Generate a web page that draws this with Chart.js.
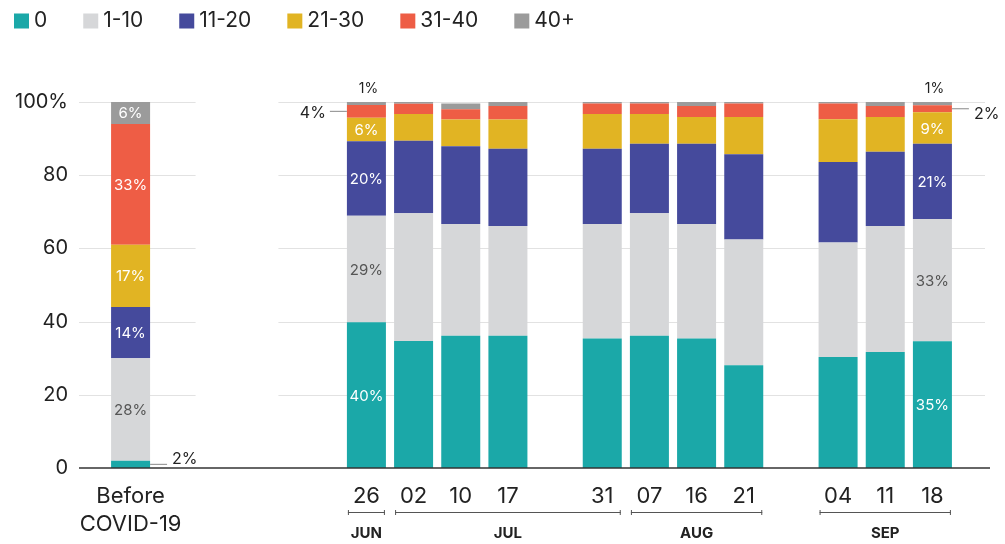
<!DOCTYPE html>
<html><head><meta charset="utf-8">
<script src="https://cdn.jsdelivr.net/npm/chart.js@4/dist/chart.umd.min.js"></script>
<style>html,body{margin:0;padding:0;background:#fff;}#wrap{width:1005px;height:544px;}</style>
</head><body><div id="wrap"><canvas id="c" width="1005" height="544"></canvas></div>
<script>
// ---- data ----
const categories = [["Before","COVID-19"], "", "", "", "", "26", "02", "10", "17", "", "31", "07", "16", "21", "", "04", "11", "18"];
const months     = [null, null, null, null, null, "JUN", "JUL", "JUL", "JUL", null, "JUL", "AUG", "AUG", "AUG", null, "SEP", "SEP", "SEP"];
const seriesNames = ["0", "1-10", "11-20", "21-30", "31-40", "40+"];
const zero        = [2,  null, null, null, null, 39.8, 34.7, 36.1, 36.1, null, 35.4, 36.1, 35.4, 28.1, null, 30.3, 31.7, 34.6];
const oneToTen    = [28, null, null, null, null, 29.1, 34.9, 30.6, 30.0, null, 31.3, 33.5, 31.3, 34.3, null, 31.3, 34.4, 33.4];
const elevenTo20  = [14, null, null, null, null, 20.4, 19.8, 21.2, 21.1, null, 20.5, 19.0, 21.9, 23.3, null, 22.0, 20.3, 20.6];
const twentyOneTo30 = [17, null, null, null, null, 6.4, 7.3, 7.3, 8.0, null, 9.5, 8.1, 7.3, 10.2, null, 11.7, 9.5, 8.6];
const thirtyOneTo40 = [33, null, null, null, null, 3.5, 2.8, 2.8, 3.7, null, 2.9, 2.9, 3.0, 3.7, null, 4.3, 3.0, 1.9];
const fortyPlus   = [6,  null, null, null, null, 0.8, 0.5, 1.6, 1.1, null, 0.4, 0.4, 1.1, 0.4, null, 0.4, 1.1, 0.9];
const yTickValues = [0, 20, 40, 60, 80, 100];
const annotatedBars = [0, 5, 17];

// ---- styles ----
const colors = ["#1BA8A8", "#D6D7D9", "#454A9C", "#E1B423", "#EE5D45", "#9B9B9B"];
const insideTextColors = ["#ffffff", "#555555", "#ffffff", "#ffffff", "#ffffff", "#ffffff"];
const outsideLabelStyle = {0: {side: "right", dy: -5}, 5: {side: "left", dy: 2}, 17: {side: "right", dy: 5}};
const FONT = "Inter, 'Noto Sans', sans-serif";

const seriesData = [zero, oneToTen, elevenTo20, twentyOneTo30, thirtyOneTo40, fortyPlus];

const gridPlugin = {
  id: "splitGrid",
  beforeDatasetsDraw(chart) {
    const {ctx, chartArea, scales: {x, y}} = chart;
    const firstRight = months.findIndex(m => m);
    const lx0 = chartArea.left - 28, lx1 = x.getPixelForValue(0) + 65;
    const rx0 = x.getPixelForValue(firstRight) - 88, rx1 = chartArea.right + 29;
    ctx.save();
    ctx.strokeStyle = "#E2E2E2";
    ctx.lineWidth = 1;
    yTickValues.forEach(v => {
      if (v === 0) return;
      const py = Math.round(y.getPixelForValue(v)) + 0.5;
      ctx.beginPath();
      ctx.moveTo(lx0, py); ctx.lineTo(lx1, py);
      ctx.moveTo(rx0, py); ctx.lineTo(rx1, py);
      ctx.stroke();
    });
    ctx.restore();
  },
  afterDatasetsDraw(chart) {
    const {ctx, chartArea, scales: {x, y}} = chart;
    ctx.save();
    // baseline
    const by = y.getPixelForValue(0);
    ctx.strokeStyle = "#333333";
    ctx.lineWidth = 1.6;
    ctx.beginPath();
    ctx.moveTo(chartArea.left - 28, by); ctx.lineTo(chartArea.right + 34, by);
    ctx.stroke();

    // value labels
    const last = seriesData.length - 1;
    annotatedBars.forEach(i => {
      seriesData.forEach((arr, d) => {
        const v = arr[i];
        if (v == null) return;
        const el = chart.getDatasetMeta(d).data[i];
        const txt = Math.round(v) + "%";
        const midY = (el.y + el.base) / 2;
        if (v >= 5) {
          ctx.font = "15px " + FONT;
          ctx.fillStyle = insideTextColors[d];
          ctx.textAlign = "center"; ctx.textBaseline = "middle";
          ctx.fillText(txt, el.x, midY + 1);
        } else if (d === last) {
          ctx.font = "14px " + FONT;
          ctx.fillStyle = "#222";
          ctx.textAlign = "center"; ctx.textBaseline = "middle";
          ctx.fillText(txt, el.x + 2, el.y - 13);
        } else {
          const st = outsideLabelStyle[i];
          const half = el.width / 2;
          ctx.strokeStyle = "#888"; ctx.lineWidth = 1;
          ctx.font = "16px " + FONT;
          ctx.fillStyle = "#222"; ctx.textBaseline = "middle";
          ctx.beginPath();
          if (st.side === "right") {
            ctx.moveTo(el.x + half, midY); ctx.lineTo(el.x + half + 17, midY); ctx.stroke();
            ctx.textAlign = "left";
            ctx.fillText(txt, el.x + half + 22, midY + st.dy);
          } else {
            ctx.moveTo(el.x - half, midY); ctx.lineTo(el.x - half - 17, midY); ctx.stroke();
            ctx.textAlign = "right";
            ctx.fillText(txt, el.x - half - 21, midY + st.dy);
          }
        }
      });
    });

    // month brackets
    const seen = [];
    months.forEach(m => { if (m && !seen.includes(m)) seen.push(m); });
    const half = chart.getDatasetMeta(0).data[annotatedBars[1]].width / 2;
    const ly = chartArea.bottom + 44.5;
    seen.forEach(m => {
      const a = months.indexOf(m), b = months.lastIndexOf(m);
      const xl = x.getPixelForValue(a) - half + 1, xr = x.getPixelForValue(b) + half - 1;
      ctx.strokeStyle = "#555"; ctx.lineWidth = 1;
      ctx.beginPath();
      ctx.moveTo(xl, ly); ctx.lineTo(xr, ly);
      ctx.moveTo(xl + 0.5, ly - 2.5); ctx.lineTo(xl + 0.5, ly + 2.5);
      ctx.moveTo(xr - 0.5, ly - 2.5); ctx.lineTo(xr - 0.5, ly + 2.5);
      ctx.stroke();
      ctx.font = "bold 15px " + FONT;
      ctx.fillStyle = "#222"; ctx.textAlign = "center"; ctx.textBaseline = "middle";
      ctx.fillText(m, (xl + xr) / 2, chartArea.bottom + 65);
    });
    ctx.restore();
  }
};

const legendPlugin = {
  id: "topLegend",
  afterDraw(chart) {
    const {ctx} = chart;
    ctx.save();
    ctx.font = "21px " + FONT;
    ctx.textBaseline = "middle"; ctx.textAlign = "left";
    let lx = 14;
    const cy = 21;
    chart.data.datasets.forEach(ds => {
      ctx.fillStyle = ds.backgroundColor;
      ctx.fillRect(lx, cy - 7.5, 15, 15);
      ctx.fillStyle = "#222";
      ctx.fillText(ds.label, lx + 20, cy);
      lx += 20 + ctx.measureText(ds.label).width + 36;
    });
    ctx.restore();
  }
};

new Chart(document.getElementById("c"), {
  type: "bar",
  data: {
    labels: categories,
    datasets: seriesData.map((arr, d) => ({
      label: seriesNames[d],
      data: arr,
      backgroundColor: colors[d],
      borderWidth: 0,
      categoryPercentage: 1,
      barPercentage: 0.827
    }))
  },
  options: {
    responsive: false,
    animation: false,
    layout: {padding: {top: 102, right: 49, bottom: 0, left: 0}},
    plugins: {legend: {display: false}, tooltip: {enabled: false}},
    scales: {
      x: {
        stacked: true,
        grid: {display: false, drawTicks: false},
        border: {display: false},
        ticks: {color: "#222", font: {family: FONT, size: 22, lineHeight: 1.27}, padding: 14, autoSkip: false, maxRotation: 0},
        afterFit: s => { s.height = 76; }
      },
      y: {
        stacked: true, min: 0, max: 100,
        grid: {display: false, drawTicks: false},
        border: {display: false},
        afterBuildTicks: s => { s.ticks = yTickValues.map(v => ({value: v})); },
        ticks: {color: "#222", font: {family: FONT, size: 20}, padding: 39, callback: v => v === 100 ? "100%" : String(v)},
        afterFit: s => { s.width = 107; }
      }
    }
  },
  plugins: [gridPlugin, legendPlugin]
});
</script></body></html>
